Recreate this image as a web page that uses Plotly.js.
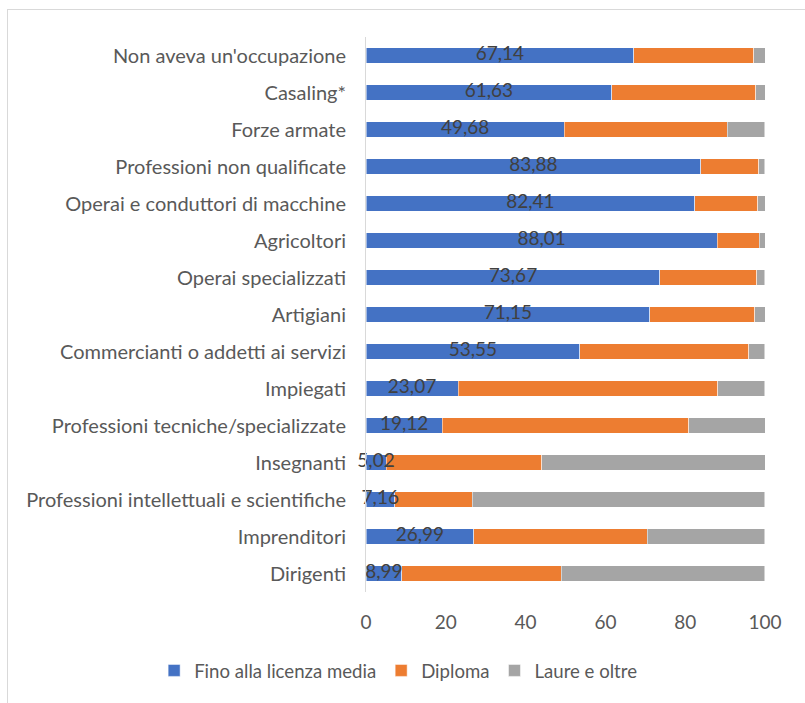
<!DOCTYPE html>
<html><head><meta charset="utf-8">
<script src="https://cdn.plot.ly/plotly-3.0.1.min.js"></script>
<style>
html,body{margin:0;padding:0;background:#fff;overflow:hidden;}
#frame{position:absolute;left:7px;top:9px;width:820px;height:720px;border:1px solid #d9d9d9;box-sizing:border-box;}
#chart{position:absolute;left:0;top:0;width:805px;height:703px;}
</style></head>
<body>
<div id="frame"></div>
<div id="chart"></div>
<script>
const categories = ["Non aveva un'occupazione","Casaling*","Forze armate","Professioni non qualificate","Operai e conduttori di macchine","Agricoltori","Operai specializzati","Artigiani","Commercianti o addetti ai servizi","Impiegati","Professioni tecniche/specializzate","Insegnanti","Professioni intellettuali e scientifiche","Imprenditori","Dirigenti"];
const finoLicenzaMedia = [67.14,61.63,49.68,83.88,82.41,88.01,73.67,71.15,53.55,23.07,19.12,5.02,7.16,26.99,8.99];
const diploma = [30.1,36.1,40.8,14.6,15.8,10.5,24.2,26.3,42.4,65.1,61.8,39.0,19.5,43.5,40.0];
const laurea = [2.8,2.3,9.5,1.5,1.8,1.5,2.1,2.6,4.0,11.8,19.1,56.0,73.3,29.5,51.0];
const seriesNames = ["Fino alla licenza media","Diploma","Laure e oltre"];
const blueLabels = finoLicenzaMedia.map(v => v.toFixed(2).replace('.', ','));

const font = "Lato, 'Open Sans', sans-serif";
const line = {color:'#ffffff', width:0.5};
const traces = [
  {type:'bar', orientation:'h', name:seriesNames[0], y:categories, x:finoLicenzaMedia, marker:{color:'#4472C4', line:line}, hoverinfo:'x'},
  {type:'bar', orientation:'h', name:seriesNames[1], y:categories, x:diploma, marker:{color:'#ED7D31', line:line}, hoverinfo:'x'},
  {type:'bar', orientation:'h', name:seriesNames[2], y:categories, x:laurea, marker:{color:'#A5A5A5', line:line}, hoverinfo:'x'},
  {type:'scatter', mode:'text', y:categories, x:finoLicenzaMedia.map(v=>v/2), text:blueLabels, textposition:'middle center', textfont:{family:font, size:19, color:'#404040'}, showlegend:false, hoverinfo:'skip', cliponaxis:false}
];
const layout = {
  width:805, height:703,
  barmode:'stack', bargap:0.59,
  margin:{l:366, r:40, t:37, b:111, pad:0, autoexpand:false},
  paper_bgcolor:'rgba(0,0,0,0)', plot_bgcolor:'rgba(0,0,0,0)',
  font:{family:font, size:19, color:'#595959'},
  xaxis:{range:[0,100], dtick:20, showgrid:false, zeroline:false, showline:false, ticks:'', ticklabelstandoff:17, tickfont:{size:19, color:'#595959'}, fixedrange:true},
  yaxis:{range:[categories.length-0.5,-0.5], categoryorder:'array', categoryarray:categories, showgrid:false, zeroline:false, showline:true, linecolor:'#d9d9d9', linewidth:1, ticks:'', ticklabelstandoff:15, tickfont:{size:20, color:'#595959'}, fixedrange:true},
  showlegend:true,
  legend:{orientation:'h', x:-0.531, xanchor:'left', y:-0.142, yanchor:'middle', font:{size:18.6, color:'#595959'}, traceorder:'normal', itemwidth:30},
};
Plotly.newPlot('chart', traces, layout, {displayModeBar:false, staticPlot:true});
</script>
</body></html>
